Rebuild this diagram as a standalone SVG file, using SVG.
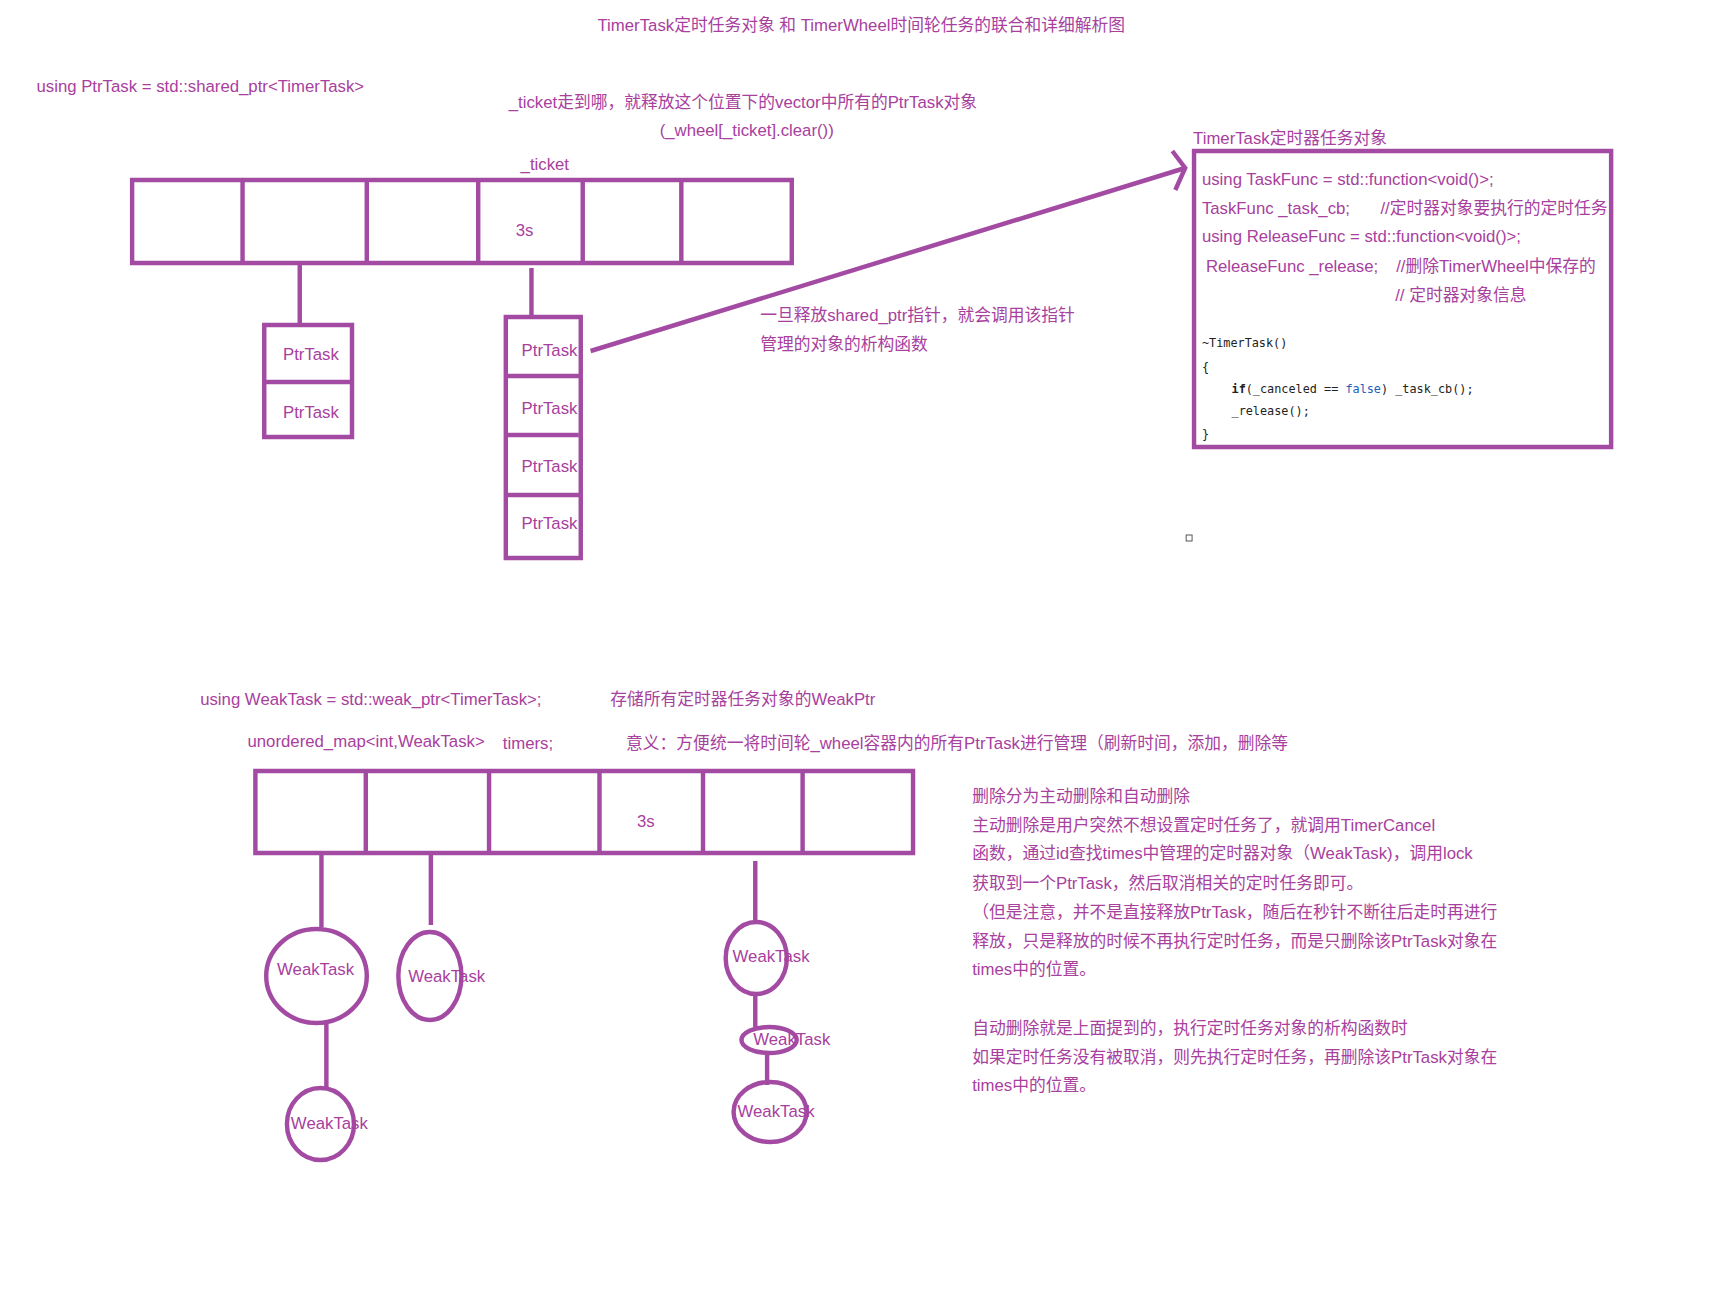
<svg xmlns="http://www.w3.org/2000/svg" width="1736" height="1303" viewBox="0 0 1736 1303">
<style>
text{font-family:"Liberation Sans","Noto Sans CJK SC",sans-serif;font-size:17px;fill:#a8409e;dominant-baseline:central}
.code{font-family:"DejaVu Sans Mono","Liberation Mono",monospace;font-size:12px;fill:#222}
.s{fill:none;stroke:#a34ba3;stroke-width:4.5}
</style>
<defs><clipPath id="bc"><rect x="1211" y="151" width="423" height="296"/></clipPath></defs>
<rect width="1736" height="1303" fill="#fff"/>
<g transform="scale(0.986 1)">
<text x="606" y="25">TimerTask定时任务对象  和 TimerWheel时间轮任务的联合和详细解析图</text>
<text x="37" y="86">using PtrTask = std::shared_ptr&lt;TimerTask&gt;</text>
<text x="516" y="102">_ticket走到哪，就释放这个位置下的vector中所有的PtrTask对象</text>
<text x="669" y="130">(_wheel[_ticket].clear())</text>
<text x="528" y="164">_ticket</text>
<g id="wheel1">
<rect class="s" x="134" y="180" width="669" height="83"/>
<path class="s" d="M246 178V265M372 180V263M485 180V265M591 180V263M691 180V263"/>
<text x="523" y="230">3s</text>
</g>
<g id="connectors">
<path class="s" d="M304 263V325M539 268V317M326 853V927M331 1024V1087M437 853V925M766 861V923M766 995V1027M778 1053V1085"/>
<path class="s" d="M599 351L1202 168M1189 151L1202 168L1192 190"/>
</g>
<g id="ptr1">
<rect class="s" x="268" y="325" width="89" height="112"/>
<path class="s" d="M268 382H357"/>
<text x="287" y="354">PtrTask</text><text x="287" y="412">PtrTask</text>
</g>
<g id="ptr2">
<rect class="s" x="513" y="317" width="76" height="241"/>
<path class="s" d="M513 376H589M515 435H587M513 495H589"/>
<text x="529" y="350">PtrTask</text><text x="529" y="408">PtrTask</text><text x="529" y="466">PtrTask</text><text x="529" y="523">PtrTask</text>
</g>
<text x="771" y="315">一旦释放shared_ptr指针，就会调用该指针</text>
<text x="771" y="344">管理的对象的析构函数</text>
<g id="timertask">
<text x="1210" y="138">TimerTask定时器任务对象</text>
<g clip-path="url(#bc)">
<text x="1219" y="179">using TaskFunc = std::function&lt;void()&gt;;</text>
<text x="1219" y="208">TaskFunc _task_cb;</text><text x="1400" y="208">//定时器对象要执行的定时任务</text>
<text x="1219" y="236">using ReleaseFunc = std::function&lt;void()&gt;;</text>
<text x="1223" y="266">ReleaseFunc _release;</text><text x="1416" y="266">//删除TimerWheel中保存的</text>
<text x="1415" y="295">// 定时器对象信息</text>
</g>
<text class="code" x="1219" y="343">~TimerTask()</text>
<text class="code" x="1219" y="367">{</text>
<text class="code" x="1249" y="389"><tspan font-weight="bold">if</tspan>(_canceled == <tspan fill="#2060c0">false</tspan>) _task_cb();</text>
<text class="code" x="1249" y="411">_release();</text>
<text class="code" x="1219" y="434">}</text>
<rect class="s" x="1211" y="151" width="423" height="296"/>
</g>
<rect x="1203" y="535" width="6" height="6" fill="none" stroke="#555" stroke-width="1"/>
<text x="203" y="699">using WeakTask = std::weak_ptr&lt;TimerTask&gt;;</text>
<text x="619" y="699">存储所有定时器任务对象的WeakPtr</text>
<text x="251" y="741">unordered_map&lt;int,WeakTask&gt;</text>
<text x="510" y="743">timers;</text>
<text x="635" y="743">意义：方便统一将时间轮_wheel容器内的所有PtrTask进行管理（刷新时间，添加，删除等</text>
<g id="wheel2">
<rect class="s" x="259" y="771" width="667" height="82"/>
<path class="s" d="M371 771V853M496 771V853M608 771V855M713 771V853M814 771V853"/>
<text x="646" y="821">3s</text>
</g>
<g id="w1"><ellipse class="s" cx="321" cy="976" rx="51" ry="47"/><text x="281" y="969">WeakTask</text></g>
<g id="w2"><ellipse class="s" cx="325" cy="1124" rx="34" ry="36"/><text x="295" y="1123">WeakTask</text></g>
<g id="w3"><ellipse class="s" cx="436" cy="976" rx="32" ry="44"/><text x="414" y="976">WeakTask</text></g>
<g id="w4"><ellipse class="s" cx="767" cy="958" rx="31" ry="36"/><text x="743" y="956">WeakTask</text></g>
<g id="w5"><ellipse class="s" cx="780" cy="1040" rx="28" ry="13"/><text x="764" y="1039">WeakTask</text></g>
<g id="w6"><ellipse class="s" cx="781" cy="1112" rx="37" ry="30"/><text x="748" y="1111">WeakTask</text></g>
<g id="notes">
<text x="986" y="796">删除分为主动删除和自动删除</text>
<text x="986" y="825">主动删除是用户突然不想设置定时任务了，就调用TimerCancel</text>
<text x="986" y="853">函数，通过id查找times中管理的定时器对象（WeakTask)，调用lock</text>
<text x="986" y="883">获取到一个PtrTask，然后取消相关的定时任务即可。</text>
<text x="986" y="912">（但是注意，并不是直接释放PtrTask，随后在秒针不断往后走时再进行</text>
<text x="986" y="941">释放，只是释放的时候不再执行定时任务，而是只删除该PtrTask对象在</text>
<text x="986" y="969">times中的位置。</text>
<text x="986" y="1028">自动删除就是上面提到的，执行定时任务对象的析构函数时</text>
<text x="986" y="1057">如果定时任务没有被取消，则先执行定时任务，再删除该PtrTask对象在</text>
<text x="986" y="1085">times中的位置。</text>
</g>
</g>
</svg>
